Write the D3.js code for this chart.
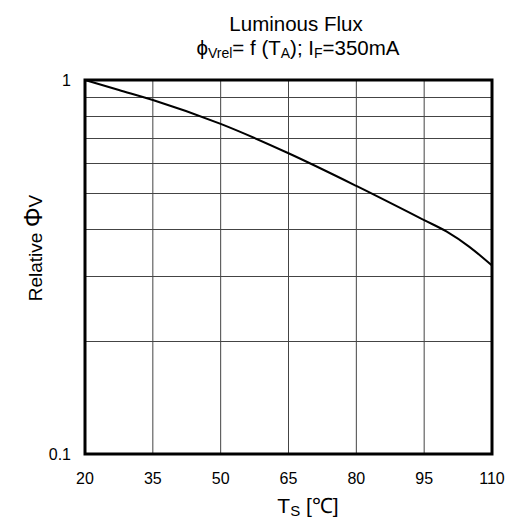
<!DOCTYPE html>
<html>
<head>
<meta charset="utf-8">
<script src="https://cdn.jsdelivr.net/npm/d3@7"></script>
<style>
  body { margin: 0; background: #fff; }
  text { font-family: "Liberation Sans", Arial, sans-serif; fill: #000; }
</style>
</head>
<body>
<div id="chart"></div>
<script>
// data
var temps = [20, 27.5, 35, 50, 65, 80, 95, 100, 105, 110];
var flux = [1.0, 0.94, 0.884, 0.763, 0.637, 0.521, 0.422, 0.393, 0.358, 0.319];
var xTicks = [20, 35, 50, 65, 80, 95, 110];
var yGrid = [0.2, 0.3, 0.4, 0.5, 0.6, 0.7, 0.8, 0.9];
var yLabels = [0.1, 1];

var margin = {top: 80, right: 17, bottom: 77, left: 85},
    width = 509 - margin.left - margin.right,
    height = 531 - margin.top - margin.bottom;

var svg = d3.select("#chart")
  .append("svg")
    .attr("width", 509)
    .attr("height", 531);

var g = svg.append("g")
    .attr("transform", "translate(" + margin.left + "," + margin.top + ")");

var x = d3.scaleLinear().domain([20, 110]).range([0, width]);
var y = d3.scaleLog().domain([0.1, 1]).range([height, 0]);

// grid
g.append("g").selectAll("line")
  .data(xTicks.slice(1, -1))
  .enter().append("line")
    .attr("x1", d => x(d)).attr("x2", d => x(d))
    .attr("y1", 0).attr("y2", height)
    .attr("stroke", "#444").attr("stroke-width", 1);

g.append("g").selectAll("line")
  .data(yGrid)
  .enter().append("line")
    .attr("x1", 0).attr("x2", width)
    .attr("y1", d => Math.round(y(d)) + 0.5).attr("y2", d => Math.round(y(d)) + 0.5)
    .attr("stroke", "#444").attr("stroke-width", 1);

// x tick labels
g.append("g").selectAll("text")
  .data(xTicks)
  .enter().append("text")
    .attr("x", d => x(d))
    .attr("y", height + 30)
    .attr("text-anchor", "middle")
    .style("font-size", "16px")
    .text(d => d);

// y tick labels
g.append("g").selectAll("text")
  .data(yLabels)
  .enter().append("text")
    .attr("x", -14)
    .attr("y", d => y(d) + 6)
    .attr("text-anchor", "end")
    .style("font-size", "16px")
    .text(d => d);

// curve
var line = d3.line()
  .x(d => x(d[0]))
  .y(d => y(d[1]))
  .curve(d3.curveMonotoneX);

g.append("path")
  .datum(temps.map((t, i) => [t, flux[i]]))
  .attr("d", line)
  .attr("fill", "none")
  .attr("stroke", "#000")
  .attr("stroke-width", 2);

// frame
g.append("rect")
  .attr("x", 0).attr("y", 0)
  .attr("width", width).attr("height", height)
  .attr("fill", "none")
  .attr("stroke", "#000")
  .attr("stroke-width", 3);

// titles
svg.append("text")
  .attr("x", 296).attr("y", 31)
  .attr("text-anchor", "middle")
  .style("font-size", "20.5px")
  .text("Luminous Flux");

var t2 = svg.append("text")
  .attr("x", 298).attr("y", 55)
  .attr("text-anchor", "middle")
  .style("font-size", "20.5px");
t2.append("tspan").text("ϕ");
t2.append("tspan").style("font-size", "14px").attr("dy", 3).text("Vrel");
t2.append("tspan").attr("dy", -3).text("= f (T");
t2.append("tspan").style("font-size", "14px").attr("dy", 3).text("A");
t2.append("tspan").attr("dy", -3).text("); I");
t2.append("tspan").style("font-size", "14px").attr("dy", 3).text("F");
t2.append("tspan").attr("dy", -3).text("=350mA");

var xt = svg.append("text")
  .attr("x", 308).attr("y", 513)
  .attr("text-anchor", "middle")
  .style("font-size", "21px");
xt.append("tspan").text("T");
xt.append("tspan").style("font-size", "15px").attr("dy", 3).text("S");
xt.append("tspan").attr("dy", -3).text(" [℃]");

var yt = svg.append("text")
  .attr("transform", "translate(42,248) rotate(-90)")
  .attr("text-anchor", "middle")
  .style("font-size", "19px");
yt.append("tspan").text("Relative ");
yt.append("tspan").style("font-size", "25px").text("Φ");
yt.append("tspan").text("V");
</script>
</body>
</html>
